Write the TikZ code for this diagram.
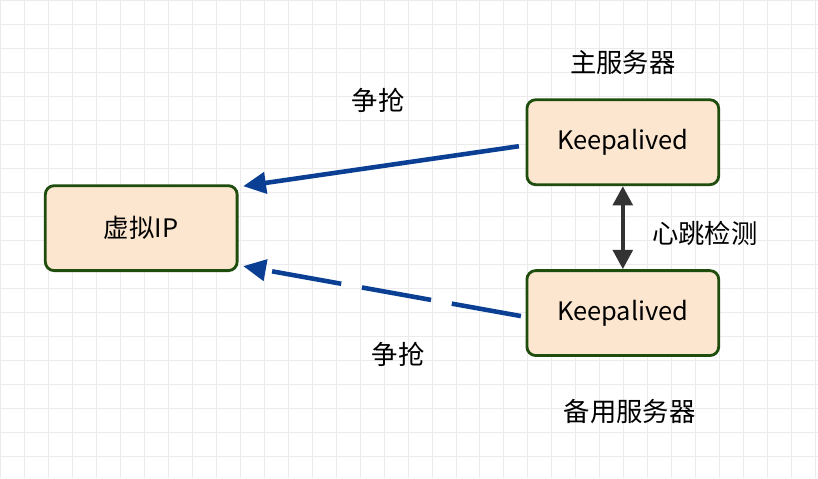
\documentclass[tikz,border=0pt]{standalone}
\usepackage{fontspec}
\setmainfont{Noto Sans CJK SC}
\usetikzlibrary{arrows.meta,positioning}
\definecolor{boxfill}{HTML}{FCE6CF}
\definecolor{boxline}{HTML}{1E4D0E}
\definecolor{arrblue}{HTML}{0A3F94}
\begin{document}
\begin{tikzpicture}[x=0.02cm,y=-0.02cm,
	box/.style={draw=boxline,line width=1.6pt,fill=boxfill,rounded corners=5pt,
		minimum width=3.84cm,minimum height=1.7cm,font=\fontsize{14.5}{16}\selectfont},
	lbl/.style={font=\fontsize{15}{17}\selectfont},
	grab/.style={draw=arrblue,line width=2.6pt,-{Triangle[length=13pt,width=12pt]}}]
	\fill[white] (0,0) rectangle (818,478);
	\draw[black!8,step=0.48cm] (0,0) grid (818,478);
	\useasboundingbox (0,0) rectangle (818,478);
	
	\node[box] (vip) at (141,228) {虚拟IP};
	\node[box] (main) at (623,142) {Keepalived};
	\node[box] (backup) at (623,313) {Keepalived};
	\node[lbl] (mainlbl) at (623,62) {主服务器};
	\node[lbl] (backuplbl) at (630,412) {备用服务器};
	\node[lbl] (heart) at (705,233) {心跳检测};
	\node[lbl] (grab1) at (378,100) {争抢};
	\node[lbl] (grab2) at (398,354) {争抢};
	
	\coordinate (mainout) at (519,146);
	\coordinate (vipin1) at (243,186);
	\coordinate (backout) at (521,316);
	\coordinate (vipin2) at (243,266);
	\draw[grab] (mainout) -- (vipin1);
	\draw[grab,dash pattern=on 40pt off 12pt] (backout) -- (vipin2);
	\draw[black!80,line width=2.6pt,{Triangle[length=11pt,width=11pt]}-{Triangle[length=11pt,width=11pt]}] (main.south) -- (backup.north);
\end{tikzpicture}
\end{document}
